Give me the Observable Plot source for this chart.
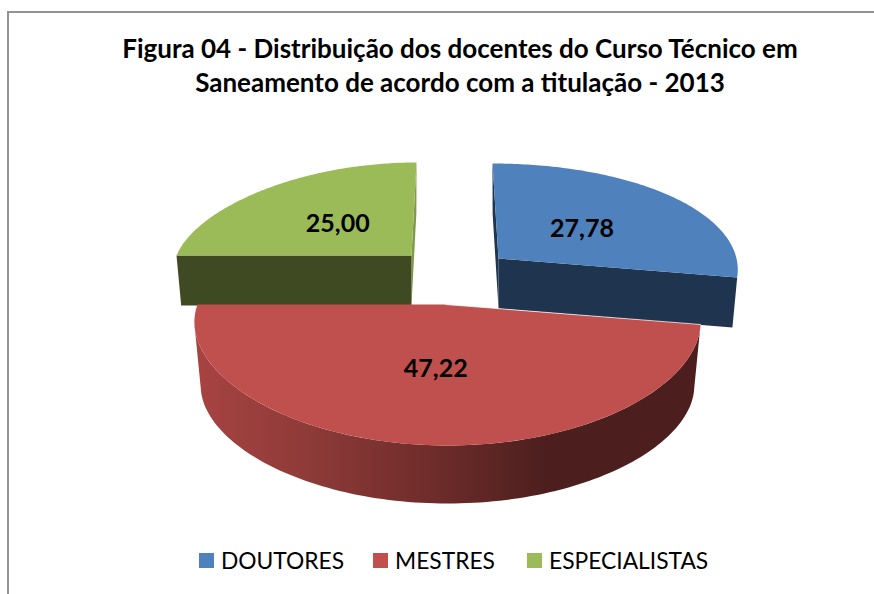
<!DOCTYPE html>
<html>
<head>
<meta charset="utf-8">
<script src="https://cdn.jsdelivr.net/npm/d3@7"></script>
<script src="https://cdn.jsdelivr.net/npm/@observablehq/plot@0.6"></script>
<style>
html,body{margin:0;padding:0;background:#fff;overflow:hidden;width:874px;height:594px}
#page{position:relative;width:874px;height:594px;overflow:hidden;font-family:Lato,sans-serif;color:#000}
#frame{position:absolute;left:7px;top:11px;width:900px;height:640px;border:2px solid #929292;box-sizing:border-box;pointer-events:none}
#title{position:absolute;left:0;top:31px;width:920px;text-align:center;font-weight:700;font-size:26px;line-height:34px;letter-spacing:0}
#chart{position:absolute;left:0;top:100px}
#legend{position:absolute;top:544px;left:0;width:874px;height:32px;font-size:22.8px;line-height:32px}
#legend span{position:absolute;top:0;white-space:nowrap}
#legend i{position:absolute;top:9px;width:15px;height:15px;display:block}
</style>
</head>
<body>
<div id="page">
  <div id="title">Figura 04 - Distribuição dos docentes do Curso Técnico em<br>Saneamento de acordo com a titulação - 2013</div>
  <div id="chart"></div>
  <div id="legend"></div>
  <div id="frame"></div>
</div>
<script>
// Data
const categories = ["DOUTORES", "MESTRES", "ESPECIALISTAS"];
const values = [27.78, 47.22, 25.00];
const valueLabels = ["27,78", "47,22", "25,00"];
const faceColors = ["#4f81bd", "#c0504d", "#9bbb59"];
const wallColors = ["#1f344f", "#4c1f1e", "#404a22"];
const rimWallColors = ["#1f344f", "#4c1f1e", "#7f9b48"];

// Projection settings of each exploded slice (perspective of the 3-D pie)
const views = [
  {cx: 498, cy: 258, rx: 238, k: 0.08, skew: 6,  a: 107,   b: 12,   depth: 50, dk: 0, shrink: 0.98, labelR: 0.48},
  {cx: 447, cy: 304, rx: 250, k: 0.16, skew: 0,  a: 109.5, b: 31.5, depth: 65, dk: 7, shrink: 0.975, apexDx: -2, labelR: 0.5},
  {cx: 411, cy: 255, rx: 235, k: 0.16, skew: -5, a: 100,   b: 7,    depth: 50, dk: 0, shrink: 0.98, labelR: 0.48}
];

const total = d3.sum(values);
const cum = d3.cumsum(values);
const angles = values.map((v, i) => [(cum[i] - v) / total * 2 * Math.PI, cum[i] / total * 2 * Math.PI]);

function project(view, theta, r = 1, lower = false) {
  const s = Math.sin(theta) * r, w = -Math.cos(theta) * r;
  let x = s * view.rx * (1 + view.k * w) + view.skew * w;
  let y = view.a * w + view.b * w * w;
  if (lower) { x *= view.shrink; y += view.depth - view.dk * Math.max(w, 0); }
  return {x: view.cx + x, y: view.cy + y};
}
const arc = (view, t0, t1, lower) => d3.range(0, 121).map(i => project(view, t0 + (t1 - t0) * i / 120, 1, lower));
const apex = (view, lower) => {
  const p = project(view, 0, 0, lower);
  return {x: p.x + (view.apexDx || 0), y: p.y};
};

const marks = [];
const poly = (pts, fill) => marks.push(Plot.line(pts, {x: "x", y: "y", fill, stroke: "none", curve: "linear"}));

// gradient of the red rim
marks.push(() => {
  const ns = "http://www.w3.org/2000/svg";
  const defs = document.createElementNS(ns, "defs");
  const g = document.createElementNS(ns, "linearGradient");
  g.setAttribute("id", "rimShade");
  g.setAttribute("gradientUnits", "userSpaceOnUse");
  g.setAttribute("x1", 200); g.setAttribute("x2", 545); g.setAttribute("y1", 0); g.setAttribute("y2", 0);
  [[0, "#a64341"], [0.3, "#8f3b39"], [0.68, "#6e2c2a"], [1, "#4c1f1e"]].forEach(([o, c]) => {
    const st = document.createElementNS(ns, "stop");
    st.setAttribute("offset", o); st.setAttribute("stop-color", c);
    g.appendChild(st);
  });
  defs.appendChild(g);
  return defs;
});

// draw order: green, blue, red
[2, 0, 1].forEach(i => {
  const v = views[i], [t0, t1] = angles[i];
  if (i === 1) {
    const silhouette = t1 - 10 * Math.PI / 180;
    poly([...arc(v, t0, silhouette, false), ...arc(v, t0, silhouette, true).reverse()], "url(#rimShade)");
  } else {
    const rimAngle = i === 0 ? t0 : t1;
    const frontAngle = i === 0 ? t1 : t0;
    poly([apex(v), project(v, rimAngle), project(v, rimAngle, 1, true), apex(v, true)], rimWallColors[i]);
    poly([apex(v), project(v, frontAngle), project(v, frontAngle, 1, true), apex(v, true)], wallColors[i]);
  }
  poly([apex(v), ...arc(v, t0, t1, false)], faceColors[i]);
  if (i === 1) {
    marks.push(Plot.line([apex(v), project(v, t0)], {x: "x", y: "y", stroke: "#fff", strokeWidth: 1, strokeOpacity: 0.7}));
  }
});

// value labels
const labelRows = values.map((d, i) => {
  const [t0, t1] = angles[i];
  return {...project(views[i], (t0 + t1) / 2, views[i].labelR), label: valueLabels[i]};
});
marks.push(Plot.text(labelRows, {
  x: "x", y: "y", dy: 2, text: "label", fontFamily: "Lato, sans-serif", fontWeight: 700, fontSize: 25, fill: "#000"
}));

const plot = Plot.plot({
  width: 874, height: 445, margin: 0,
  style: {background: "transparent", overflow: "visible"},
  x: {domain: [0, 874], range: [0, 874], axis: null},
  y: {domain: [100, 545], range: [0, 445], axis: null},
  marks
});
document.getElementById("chart").appendChild(plot);

// legend
const legendX = [[199, 221], [373, 395], [527, 549]];
const legend = document.getElementById("legend");
categories.forEach((c, i) => {
  const sw = document.createElement("i");
  sw.style.left = legendX[i][0] + "px"; sw.style.background = faceColors[i];
  const t = document.createElement("span");
  t.style.left = legendX[i][1] + "px"; t.textContent = c;
  legend.append(sw, t);
});
</script>
</body>
</html>
